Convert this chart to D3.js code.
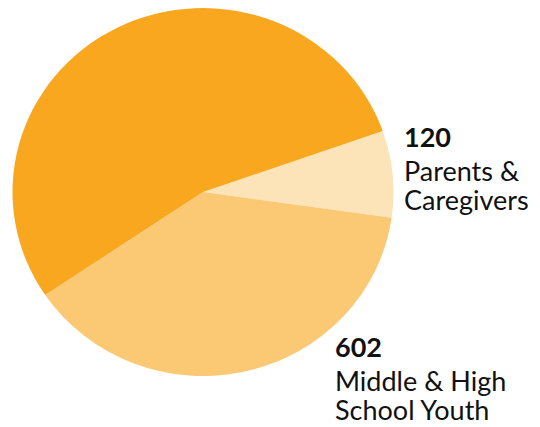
<!DOCTYPE html>
<html>
<head>
<meta charset="utf-8">
<script src="https://cdn.jsdelivr.net/npm/d3@7"></script>
<style>
  body { margin: 0; background: #fff; }
  text { font-family: Lato, "Open Sans", sans-serif; fill: #111; }
</style>
</head>
<body>
<div id="chart"></div>
<script>
var width = 540,
    height = 427;

// slices, clockwise from the top-right one
var categories = ["Parents & Caregivers", "Middle & High School Youth", "Other"];
var values = [120, 602, 850];
var numberLabels = ["120", "602", ""];
var labelLines = [["Parents &", "Caregivers"], ["Middle & High", "School Youth"], []];
var colors = ["#FDE3B8", "#FBC874", "#F8A71F"];

var svg = d3.select("#chart").append("svg")
    .attr("width", width)
    .attr("height", height);

var cx = 203, cy = 192, rx = 190.5, ry = 184;

var pie = d3.pie()
    .sort(null)
    .startAngle(70.6 * Math.PI / 180)
    .endAngle((70.6 + 360) * Math.PI / 180);

var arc = d3.arc().innerRadius(0).outerRadius(rx);

var slices = pie(values);

// picture is a touch squashed vertically
var g = svg.append("g")
    .attr("transform", "translate(" + cx + "," + cy + ") scale(1," + (ry / rx) + ")");

g.selectAll("path")
    .data(slices)
    .enter().append("path")
    .attr("d", arc)
    .attr("fill", function(d, i) { return colors[i]; });

// labels
var labelPos = [{x: 404, y: 147}, {x: 335, y: 357}];
labelPos.forEach(function(p, i) {
  var t = svg.append("text")
    .attr("x", p.x)
    .attr("y", p.y)
    .style("font-size", "27px");
  t.append("tspan")
    .attr("x", p.x)
    .style("font-weight", "bold")
    .text(numberLabels[i]);
  labelLines[i].forEach(function(line, j) {
    t.append("tspan")
      .attr("x", p.x)
      .attr("dy", j == 0 ? 34 : 29)
      .text(line);
  });
});
</script>
</body>
</html>
